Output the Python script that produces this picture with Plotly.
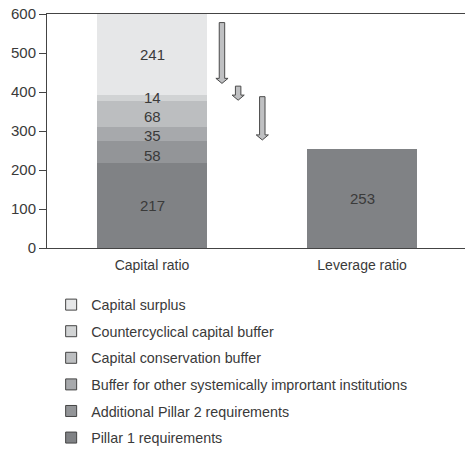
import plotly.graph_objects as go

categories = ["Capital ratio", "Leverage ratio"]
series_names = [
    "Pillar 1 requirements",
    "Additional Pillar 2 requirements",
    "Buffer for other systemically imprortant institutions",
    "Capital conservation buffer",
    "Countercyclical capital buffer",
    "Capital surplus",
]
capital_values = [217, 58, 35, 68, 14, 241]
leverage_value = 253
colors = ["#808285", "#939598", "#a7a9ac", "#bcbec0", "#d1d3d4", "#e6e7e8"]
y_ticks = [0, 100, 200, 300, 400, 500, 600]
y_max = 600
# arrows: (x position on category axis, start value, end value)
arrows = [(0.333, 578, 422), (0.41, 415, 379), (0.525, 388, 277)]

# style: small vertical nudges (px) of the segment labels
label_yshift = [0, -3, -2, -3, 0, 0]

FONT = "Liberation Sans, Arial, sans-serif"
TXT = "#3a3a3a"
f_bar = dict(family=FONT, size=15, color=TXT)
f_tick = dict(family=FONT, size=15, color=TXT)
f_cat = dict(family=FONT, size=14, color=TXT)
f_leg = dict(family=FONT, size=14.3, color=TXT)

fig = go.Figure()
for name, val, col in zip(series_names, capital_values, colors):
    fig.add_trace(go.Bar(
        x=[categories[0]], y=[val], marker_color=col, marker_line_width=0,
        width=0.52, showlegend=False, hoverinfo="skip",
    ))
fig.add_trace(go.Bar(
    x=[categories[1]], y=[leverage_value], marker_color=colors[0], marker_line_width=0,
    width=0.52, showlegend=False, hoverinfo="skip",
))

# segment labels at the middle of the visible part of each segment
base = 0
for val, dy in zip(capital_values, label_yshift):
    top = base + val
    mid = (base + min(top, y_max)) / 2
    fig.add_annotation(x=categories[0], y=mid, text=str(val), showarrow=False,
                       font=f_bar, yshift=dy)
    base = top
fig.add_annotation(x=categories[1], y=leverage_value / 2, text=str(leverage_value),
                   showarrow=False, font=f_bar)

# legend entries (square outlined markers)
n = len(series_names)
for i, (name, col) in enumerate(zip(series_names, colors)):
    fig.add_trace(go.Scatter(
        x=[None], y=[None], mode="markers", name=name,
        marker=dict(symbol="square", size=11, color=col, line=dict(color="#444", width=1)),
        legendgroup=name, legendrank=n - i,
    ))

shaft_h = 0.013
head_h = 0.029
head_len = 13
for xc, y0, y1 in arrows:
    yh = y1 + head_len
    path = (f"M{xc-shaft_h},{y0} L{xc+shaft_h},{y0} L{xc+shaft_h},{yh} L{xc+head_h},{yh} "
            f"L{xc},{y1} L{xc-head_h},{yh} L{xc-shaft_h},{yh} Z")
    fig.add_shape(type="path", path=path, xref="x", yref="y",
                  fillcolor="#bfc0c2", line=dict(color="#4a4a4a", width=1))

fig.update_layout(
    barmode="stack",
    width=465, height=452,
    margin=dict(l=47, r=0, t=14, b=204, autoexpand=False),
    paper_bgcolor="white", plot_bgcolor="white",
    font=f_tick,
    legend=dict(
        orientation="v", xref="container", yref="container",
        x=0.11, xanchor="left", y=0.361, yanchor="top",
        traceorder="grouped", tracegroupgap=5,
        font=f_leg,
    ),
    xaxis=dict(
        type="category", range=[-0.5, 1.49], showline=True, mirror=True,
        linecolor="#444", linewidth=1, ticks="", showgrid=False,
        tickfont=f_cat, automargin=False, ticklabelstandoff=4,
    ),
    yaxis=dict(
        range=[0, y_max], tickvals=y_ticks, showline=True, linecolor="#444", linewidth=1,
        ticks="outside", ticklen=7, tickcolor="#444", showgrid=False, zeroline=False,
        tickfont=f_tick, automargin=False,
    ),
)

fig.write_html("out.html", config={"displayModeBar": False},
               post_script="document.body.style.margin='0';")
